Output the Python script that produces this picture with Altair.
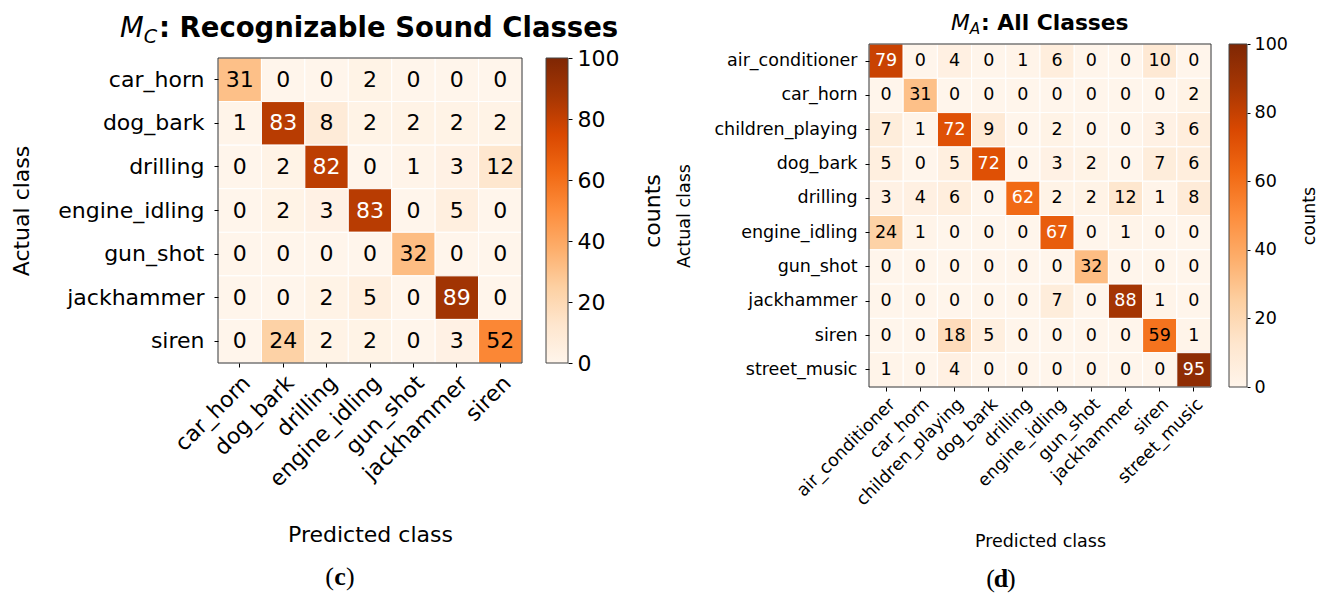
import altair as alt
import pandas as pd

# ---------------- data ----------------
classes_c = ["car_horn", "dog_bark", "drilling", "engine_idling", "gun_shot",
             "jackhammer", "siren"]
matrix_c = [
    [31, 0, 0, 2, 0, 0, 0],
    [1, 83, 8, 2, 2, 2, 2],
    [0, 2, 82, 0, 1, 3, 12],
    [0, 2, 3, 83, 0, 5, 0],
    [0, 0, 0, 0, 32, 0, 0],
    [0, 0, 2, 5, 0, 89, 0],
    [0, 24, 2, 2, 0, 3, 52],
]

classes_a = ["air_conditioner", "car_horn", "children_playing", "dog_bark",
             "drilling", "engine_idling", "gun_shot", "jackhammer", "siren",
             "street_music"]
matrix_a = [
    [79, 0, 4, 0, 1, 6, 0, 0, 10, 0],
    [0, 31, 0, 0, 0, 0, 0, 0, 0, 2],
    [7, 1, 72, 9, 0, 2, 0, 0, 3, 6],
    [5, 0, 5, 72, 0, 3, 2, 0, 7, 6],
    [3, 4, 6, 0, 62, 2, 2, 12, 1, 8],
    [24, 1, 0, 0, 0, 67, 0, 1, 0, 0],
    [0, 0, 0, 0, 0, 0, 32, 0, 0, 0],
    [0, 0, 0, 0, 0, 7, 0, 88, 1, 0],
    [0, 0, 18, 5, 0, 0, 0, 0, 59, 1],
    [1, 0, 4, 0, 0, 0, 0, 0, 0, 95],
]

cbar_range = [0, 100]
cbar_ticks = [0, 20, 40, 60, 80, 100]
oranges = ["#fff5eb", "#fee6ce", "#fdd0a2", "#fdae6b", "#fd8d3c",
           "#f16913", "#d94801", "#a63603", "#7f2704"]
# evenly spaced colour stops over the 0-100 colour range
oranges_domain = [cbar_range[0] + i * (cbar_range[1] - cbar_range[0]) / (len(oranges) - 1)
                  for i in range(len(oranges))]

FONT = "DejaVu Sans"
SERIF = "Liberation Serif"


def to_df(classes, matrix):
    rows = []
    for i, a in enumerate(classes):
        for j, p in enumerate(classes):
            rows.append({"actual": a, "pred": p, "v": matrix[i][j]})
    return pd.DataFrame(rows)


def one():
    return alt.Data(values=[{}])


def panel(classes, matrix, p):
    W, H, y0, fs = p["W"], p["H"], p["y0"], p["fs"]
    df = to_df(classes, matrix)
    xenc = alt.X("pred:N", sort=classes, scale=alt.Scale(domain=classes),
                 axis=alt.Axis(title="Predicted class", labelAngle=-45,
                               labelAlign="right", labelBaseline="top",
                               labelFontSize=fs, titleFontSize=fs,
                               tickSize=4, labelPadding=p["xlabpad"],
                               titlePadding=p["xtitlepad"], domain=False))
    yenc = alt.Y("actual:N", sort=classes,
                 scale=alt.Scale(domain=classes, range=[y0, H]),
                 axis=alt.Axis(title="Actual class", labelFontSize=fs,
                               titleFontSize=fs, tickSize=4,
                               labelPadding=p["ylabpad"],
                               titlePadding=p["ytitlepad"], domain=False))
    rect = alt.Chart(df).mark_rect(stroke="white", strokeWidth=1).encode(
        x=xenc, y=yenc,
        color=alt.Color("v:Q",
                        scale=alt.Scale(domain=oranges_domain, range=oranges,
                                        interpolate="rgb"),
                        legend=None),
    )
    text = alt.Chart(df).mark_text(font=FONT, fontSize=fs).encode(
        x=xenc, y=yenc, text="v:Q",
        color=alt.when(alt.datum.v >= 60).then(alt.value("white")).otherwise(alt.value("black")),
    )
    frame = alt.Chart(one()).mark_rect(fillOpacity=0, stroke="#333333", strokeWidth=1).encode(
        x=alt.value(0), x2=alt.value(W), y=alt.value(y0), y2=alt.value(H))
    heat = alt.layer(rect, text, frame)

    grad = alt.LinearGradient(
        gradient="linear",
        stops=[alt.GradientStop(color=c, offset=i / (len(oranges) - 1))
               for i, c in enumerate(oranges)],
        x1=0, x2=0, y1=1, y2=0)
    cbar = alt.Chart(alt.Data(values=[{"lo": cbar_range[0], "hi": cbar_range[1]}])).mark_rect(
        fill=grad, stroke="#444444", strokeWidth=1).encode(
        x=alt.value(p["cb0"]), x2=alt.value(p["cb1"]),
        y=alt.Y("lo:Q", scale=alt.Scale(domain=cbar_range, range=[H, y0]),
                axis=alt.Axis(orient="right", offset=p["cb1"] - W, values=cbar_ticks,
                              title="counts", titleAngle=270, titleBaseline="top",
                              titlePadding=p["cbtitlepad"], labelFontSize=fs,
                              titleFontSize=fs, tickSize=p["cbtick"],
                              labelPadding=p["cblabpad"], domain=False, grid=False)),
        y2="hi:Q",
    )

    tx, ty, tfs = p["tx"], p["ty"], p["tfs"]
    t_m = alt.Chart(one()).mark_text(text="M", font=FONT, fontStyle="italic", fontSize=tfs,
                                     align="left", baseline="middle").encode(
        x=alt.value(tx), y=alt.value(ty))
    t_sub = alt.Chart(one()).mark_text(text=p["sub"], font=FONT, fontStyle="italic",
                                       fontSize=round(tfs * 0.7, 1),
                                       align="left", baseline="middle").encode(
        x=alt.value(tx + tfs * 0.86), y=alt.value(ty + tfs * 0.28))
    t_rest = alt.Chart(one()).mark_text(text=p["rest"], font=FONT, fontWeight="bold",
                                        fontSize=tfs, align="left", baseline="middle").encode(
        x=alt.value(p["colon"]), y=alt.value(ty))

    lx, ly = p["lx"], p["ly"]
    l1 = alt.Chart(one()).mark_text(text="(", font=SERIF, fontSize=26, align="right",
                                    baseline="middle").encode(x=alt.value(lx - 6), y=alt.value(ly))
    l2 = alt.Chart(one()).mark_text(text=p["letter"], font=SERIF, fontSize=26, fontWeight="bold",
                                    align="center", baseline="middle").encode(
        x=alt.value(lx), y=alt.value(ly))
    l3 = alt.Chart(one()).mark_text(text=")", font=SERIF, fontSize=26, align="left",
                                    baseline="middle").encode(x=alt.value(lx + 6), y=alt.value(ly))

    return alt.layer(heat, cbar, t_m, t_sub, t_rest, l1, l2, l3).resolve_scale(
        y="independent").properties(width=W, height=H)


left = panel(classes_c, matrix_c, dict(
    W=304, H=319, y0=14, fs=22, xlabpad=5, xtitlepad=34, ylabpad=10, ytitlepad=24,
    cb0=328, cb1=350, cbtick=4, cblabpad=5, cbtitlepad=24,
    tx=-98, ty=-15, tfs=27.5, sub="C", rest=": Recognizable Sound Classes", colon=-59,
    lx=122, ly=533, letter="c"))

right = panel(classes_a, matrix_a, dict(
    W=342, H=343, y0=0, fs=17.5, xlabpad=4, xtitlepad=24, ylabpad=8, ytitlepad=20,
    cb0=360, cb1=378, cbtick=3, cblabpad=4, cbtitlepad=13,
    tx=82, ty=-21, tfs=21.8, sub="A", rest=": All Classes", colon=112,
    lx=132, ly=535, letter="d"))

chart = alt.hconcat(left, right, spacing=347, bounds="flush").properties(
    padding={"left": 10, "top": 13, "right": 5, "bottom": 5}
).configure_view(strokeWidth=0).configure_axis(
    labelFont=FONT, titleFont=FONT, labelColor="black", titleColor="black",
    tickColor="black", titleFontWeight="normal", grid=False
)

chart.save("out.html", embed_options={"renderer": "svg", "actions": False})
